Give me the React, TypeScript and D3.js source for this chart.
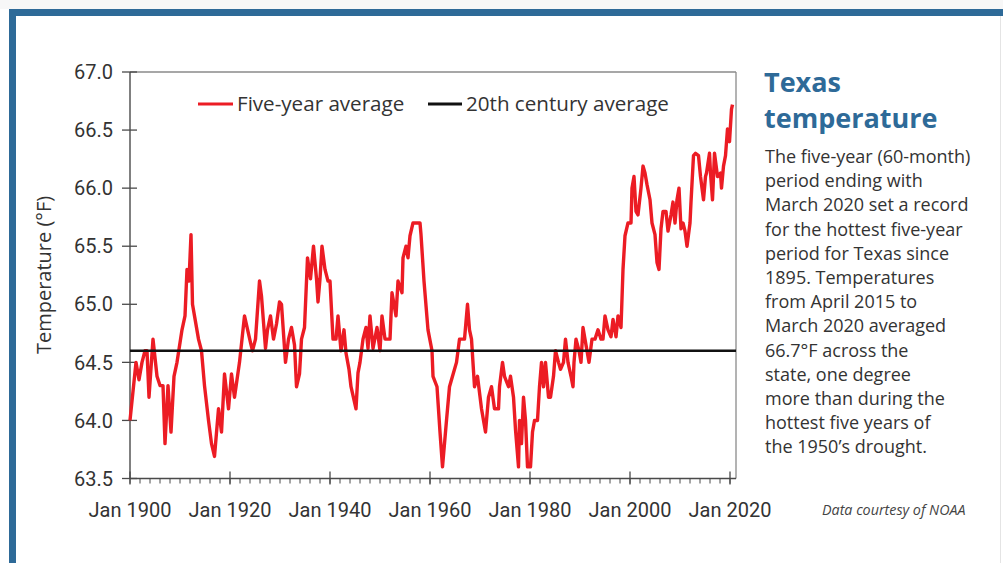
import React from 'react';
import * as d3 from 'd3';

// Five-year (60-month) rolling average, Texas, °F — [year, temperature]
const fiveYearAvg: [number, number][] = [
  [1900.0, 64.0], [1901.2, 64.5], [1901.8, 64.35], [1902.4, 64.5], [1903.0, 64.6], [1903.4, 64.6],
  [1903.8, 64.2], [1904.6, 64.7], [1905.4, 64.38], [1906.0, 64.3], [1906.6, 64.3], [1907.0, 63.8],
  [1907.6, 64.3], [1908.2, 63.9], [1908.8, 64.38], [1909.4, 64.5], [1910.4, 64.78], [1911.0, 64.9],
  [1911.4, 65.3], [1911.8, 65.2], [1912.2, 65.6], [1912.5, 65.0], [1912.9, 64.9], [1913.7, 64.7],
  [1914.3, 64.6], [1914.9, 64.3], [1915.7, 64.0], [1916.3, 63.8], [1916.9, 63.69], [1917.7, 64.1],
  [1918.3, 63.9], [1918.9, 64.4], [1919.7, 64.1], [1920.3, 64.4], [1920.9, 64.2], [1921.9, 64.5],
  [1922.9, 64.9],
  [1924.1, 64.67], [1924.5, 64.6], [1925.1, 64.7], [1925.9, 65.2], [1926.3, 65.07], [1927.1, 64.62],
  [1927.5, 64.78], [1928.1, 64.9], [1928.7, 64.7], [1929.3, 64.83], [1929.9, 65.02], [1930.3, 65.0],
  [1931.1, 64.5], [1931.7, 64.7], [1932.3, 64.8], [1932.9, 64.65], [1933.3, 64.29], [1933.9, 64.4],
  [1934.3, 64.7], [1934.9, 64.8], [1935.5, 65.4], [1936.1, 65.22], [1936.7, 65.5], [1937.3, 65.22],
  [1937.6, 65.02], [1938.0, 65.22], [1938.4, 65.5], [1939.0, 65.3], [1939.6, 65.2], [1940.0, 65.2],
  [1940.6, 64.7], [1941.2, 64.7], [1941.6, 64.9], [1942.2, 64.6], [1942.8, 64.78], [1943.2, 64.58],
  [1943.8, 64.44], [1944.2, 64.29], [1945.2, 64.1], [1945.6, 64.41], [1946.0, 64.5], [1946.6, 64.7],
  [1947.2, 64.8],
  [1947.6, 64.62], [1948.0, 64.9], [1948.6, 64.62], [1949.4, 64.8], [1950.0, 64.6], [1950.4, 64.9],
  [1951.0, 64.7], [1952.0, 64.7], [1952.4, 65.1], [1953.2, 64.9], [1953.6, 65.2], [1954.4, 65.1],
  [1954.6, 65.4], [1955.2, 65.5], [1955.6, 65.4], [1956.0, 65.59], [1956.6, 65.7], [1958.0, 65.7],
  [1958.2, 65.6], [1958.8, 65.2], [1959.6, 64.78], [1960.4, 64.6], [1960.6, 64.38], [1961.4, 64.29],
  [1962.0, 63.9], [1962.5, 63.6], [1963.3, 64.0], [1963.9, 64.29], [1964.5, 64.38], [1965.3, 64.5],
  [1965.9, 64.7], [1966.9, 64.7], [1967.5, 65.0], [1967.9, 64.78], [1968.3, 64.7], [1968.9, 64.29],
  [1969.5, 64.38], [1970.3, 64.1], [1971.1, 63.9],
  [1971.7, 64.2], [1972.3, 64.29], [1972.9, 64.1], [1973.7, 64.1], [1973.9, 64.29], [1974.5, 64.5],
  [1974.9, 64.38], [1975.7, 64.29], [1976.1, 64.38], [1976.7, 64.2], [1977.1, 63.92], [1977.7, 63.6],
  [1977.9, 64.0], [1978.3, 63.8], [1978.7, 64.2], [1979.1, 64.0], [1979.5, 63.6], [1980.1, 63.6],
  [1980.5, 63.9], [1980.9, 64.0], [1981.5, 64.0], [1981.9, 64.29], [1982.3, 64.5], [1982.7, 64.29],
  [1983.1, 64.5], [1983.7, 64.2], [1984.1, 64.2], [1984.7, 64.38], [1985.1, 64.6], [1985.7, 64.5],
  [1986.1, 64.44], [1986.7, 64.5], [1987.1, 64.7], [1987.6, 64.5], [1988.2, 64.38], [1988.6, 64.29],
  [1988.8, 64.5], [1989.2, 64.7], [1989.8, 64.6], [1990.2, 64.5], [1990.6, 64.8], [1991.2, 64.65],
  [1991.8, 64.5], [1992.4, 64.7], [1993.0, 64.7], [1993.6, 64.78], [1994.2, 64.7], [1994.6, 64.7],
  [1995.0, 64.9], [1995.6, 64.78],
  [1996.2, 64.72], [1996.6, 64.87], [1997.2, 64.72], [1997.6, 64.9], [1998.2, 64.8], [1998.6, 65.3],
  [1999.0, 65.59], [1999.6, 65.7], [2000.2, 65.7], [2000.4, 66.0], [2000.8, 66.1], [2001.2, 65.8],
  [2001.6, 65.77], [2002.2, 66.0], [2002.6, 66.19], [2003.0, 66.13], [2003.4, 66.03], [2004.0, 65.9],
  [2004.4, 65.7], [2005.0, 65.6], [2005.4, 65.36], [2005.8, 65.3], [2006.2, 65.65], [2006.6, 65.8],
  [2007.2, 65.8], [2007.6, 65.63], [2008.2, 65.77], [2008.6, 65.88], [2009.0, 65.7], [2009.4, 65.9],
  [2009.8, 66.0], [2010.2, 65.65], [2010.6, 65.7], [2011.0, 65.63], [2011.4, 65.5], [2012.0, 65.7],
  [2012.2, 65.88], [2012.7, 66.28], [2013.1, 66.3], [2013.7, 66.28], [2014.1, 66.1], [2014.7, 65.9],
  [2015.1, 66.1], [2015.3, 66.13], [2015.9, 66.3], [2016.1, 66.13], [2016.5, 65.9], [2016.9, 66.3],
  [2017.5, 66.1], [2018.1, 66.13], [2018.3, 66.0], [2018.7, 66.19], [2019.1, 66.28], [2019.5, 66.51],
  [2019.9, 66.4], [2020.3, 66.68], [2020.5, 66.72],
];

const centuryAverage = 64.6;
const yTickValues = [63.5, 64.0, 64.5, 65.0, 65.5, 66.0, 66.5, 67.0];
const xMajorTicks = [1900, 1920, 1940, 1960, 1980, 2000, 2020];
const xTickLabels = ['Jan 1900', 'Jan 1920', 'Jan 1940', 'Jan 1960', 'Jan 1980', 'Jan 2000', 'Jan 2020'];
const legendLabels = ['Five-year average', '20th century average'];
const titleLines = ['Texas', 'temperature'];
const bodyLines = [
  'The five-year (60-month)',
  'period ending with',
  'March 2020 set a record',
  'for the hottest five-year',
  'period for Texas since',
  '1895. Temperatures',
  'from April 2015 to',
  'March 2020 averaged',
  '66.7°F across the',
  'state, one degree',
  'more than during the',
  'hottest five years of',
  'the 1950’s drought.',
];
const yAxisLabel = 'Temperature (°F)';
const sourceNote = 'Data courtesy of NOAA';

const W = 1003;
const H = 563;
const PL = 130;
const PR = 736;
const PT = 72;
const PB = 478.5;

const RED = '#ec1c24';
const BLUE = '#2e6a98';
const TEXT = '#333333';
const TICK_FONT = 'Roboto, "Liberation Sans", sans-serif';
const SANS = '"Open Sans", "Noto Sans", sans-serif';

export default function App() {
  const x = d3.scaleLinear().domain([1900, 2021.2]).range([PL, PR]);
  const y = d3.scaleLinear().domain([63.5, 67]).range([PB, PT]);
  const line = d3
    .line<[number, number]>()
    .x((d) => x(d[0]))
    .y((d) => y(d[1]));
  const minorTicks = d3.range(1900, 2021, 2);

  return (
    <div style={{ position: 'absolute', left: 0, top: 0, width: W, height: H }}>
      <svg width={W} height={H} style={{ display: 'block', background: '#ffffff' }}>
        {/* frame */}
        <rect x={0} y={0} width={W} height={9} fill="#f7f7f7" />
        <rect x={9} y={9} width={W - 9} height={7} fill={BLUE} />
        <rect x={9} y={9} width={7} height={H - 9} fill={BLUE} />
        <line x1={1000.5} x2={1000.5} y1={16} y2={H} stroke="#e4e4e4" strokeWidth={1} />

        {/* plot box */}
        <line x1={PL} x2={PR} y1={PT} y2={PT} stroke="#8a8a8a" strokeWidth={1.3} />
        <line x1={PR} x2={PR} y1={PT} y2={PB} stroke="#8a8a8a" strokeWidth={1.3} />
        <line x1={PL} x2={PL} y1={PT} y2={PB} stroke="#4a4a4a" strokeWidth={1.4} />
        <line x1={PL} x2={PR} y1={PB} y2={PB} stroke="#4a4a4a" strokeWidth={1.4} />

        {/* y ticks */}
        {yTickValues.map((v) => (
          <g key={v}>
            <line x1={PL - 8} x2={PL + 7} y1={y(v)} y2={y(v)} stroke="#4a4a4a" strokeWidth={1.3} />
            <text
              x={113}
              y={y(v)}
              dy="0.36em"
              textAnchor="end"
              fontFamily={TICK_FONT}
              fontSize={20}
              fill={TEXT}
            >
              {v.toFixed(1)}
            </text>
          </g>
        ))}

        {/* x ticks */}
        {minorTicks.map((t) => (
          <line key={'m' + t} x1={x(t)} x2={x(t)} y1={PB} y2={PB + 5} stroke="#4a4a4a" strokeWidth={1} />
        ))}
        {xMajorTicks.map((t, i) => (
          <g key={t}>
            <line x1={x(t)} x2={x(t)} y1={PB - 7} y2={PB + 6} stroke="#4a4a4a" strokeWidth={1.3} />
            <text
              x={x(t)}
              y={517}
              textAnchor="middle"
              fontFamily={TICK_FONT}
              fontSize={20}
              fill={TEXT}
            >
              {xTickLabels[i]}
            </text>
          </g>
        ))}

        {/* y axis title */}
        <text
          transform="translate(51,275) rotate(-90)"
          textAnchor="middle"
          fontFamily={SANS}
          fontSize={20}
          fill={TEXT}
        >
          {yAxisLabel}
        </text>

        {/* data */}
        <path
          d={line(fiveYearAvg) || ''}
          fill="none"
          stroke={RED}
          strokeWidth={3.4}
          strokeLinejoin="round"
        />
        <line
          x1={PL}
          x2={PR}
          y1={y(centuryAverage)}
          y2={y(centuryAverage)}
          stroke="#111111"
          strokeWidth={2.6}
        />

        {/* legend */}
        <line x1={198} x2={233} y1={104} y2={104} stroke={RED} strokeWidth={3} />
        <text x={237} y={104} dy="0.36em" fontFamily={SANS} fontSize={20.6} fill={TEXT}>
          {legendLabels[0]}
        </text>
        <line x1={428} x2={462} y1={104} y2={104} stroke="#111111" strokeWidth={3} />
        <text x={466} y={104} dy="0.36em" fontFamily={SANS} fontSize={20.6} fill={TEXT}>
          {legendLabels[1]}
        </text>

        {/* side text */}
        {titleLines.map((t, i) => (
          <text
            key={t}
            x={764}
            y={92 + i * 36}
            fontFamily={SANS}
            fontWeight={700}
            fontSize={27}
            fill={BLUE}
          >
            {t}
          </text>
        ))}
        {bodyLines.map((t, i) => (
          <text key={i} x={765} y={163 + i * 24.2} fontFamily={SANS} fontSize={18} fill={TEXT}>
            {t}
          </text>
        ))}
        <text
          x={822}
          y={515}
          fontFamily={SANS}
          fontStyle="italic"
          fontSize={14.3}
          fill="#444444"
        >
          {sourceNote}
        </text>
      </svg>
    </div>
  );
}
